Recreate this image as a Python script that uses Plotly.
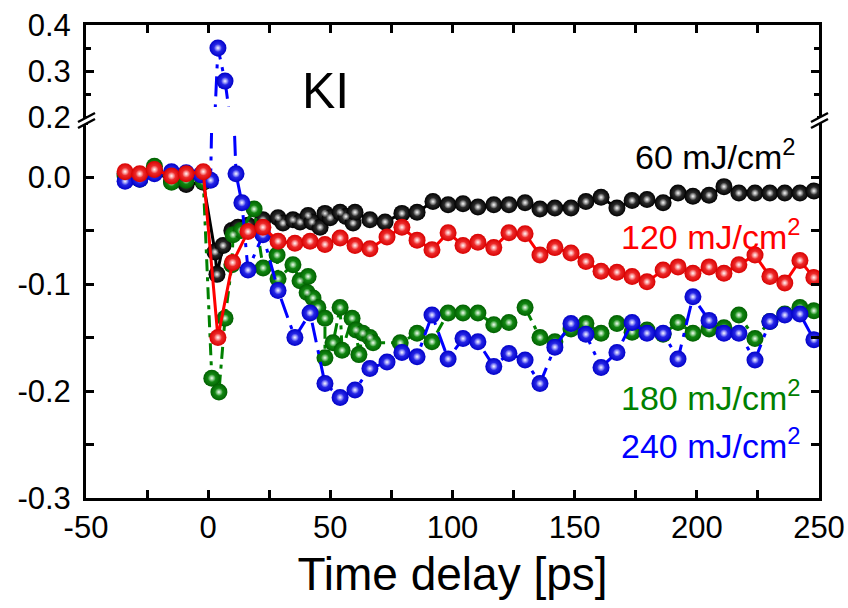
import plotly.graph_objects as go

# ---------------- data ----------------
t_pre = [-34, -28, -22, -15, -9, -2]

t_60 = t_pre + [2.8, 3.6, 6.1, 9.7, 12.2, 16.3, 22.4, 28.6, 30.6, 34.7, 37.6, 40.9, 42.5,
                45.8, 47.8, 49.9, 54.0, 56.4, 59.3, 60.1, 66.2, 72.4, 79.3, 85.5, 92.0,
                98.2, 104.3, 110.4, 116.9, 123.1, 129.7, 135.8, 141.9, 148.5, 154.6,
                160.8, 167.3, 173.5, 179.6, 186.2, 192.3, 198.4, 205.0, 211.1, 217.2,
                223.8, 229.9, 236.0, 242.2, 247.9]
v_60 = [0.003, 0.001, 0.006, -0.004, -0.007, -0.005,
        -0.070, -0.091, -0.064, -0.050, -0.047, -0.045, -0.040, -0.038, -0.043, -0.040,
        -0.042, -0.036, -0.042, -0.047, -0.034, -0.038, -0.033, -0.037, -0.043, -0.033,
        -0.040, -0.042, -0.034, -0.033, -0.023, -0.026, -0.025, -0.028, -0.026, -0.026,
        -0.024, -0.030, -0.029, -0.029, -0.023, -0.019, -0.029, -0.022, -0.021, -0.024,
        -0.015, -0.018, -0.017, -0.009, -0.015, -0.015, -0.015, -0.015, -0.015, -0.013]

t_120 = t_pre + [4.0, 10.0, 16.3, 22.4, 28.6, 35.5, 41.7, 47.8, 54.0, 60.1, 66.2, 73.2,
                 79.3, 85.5, 91.6, 98.2, 104.3, 110.4, 116.9, 123.1, 129.7, 135.8, 141.9,
                 148.5, 154.6, 160.8, 167.3, 173.5, 179.6, 186.2, 192.3, 198.4, 205.0,
                 211.1, 217.2, 223.8, 229.9, 236.0, 242.2, 247.9]
v_120 = [0.005, 0.003, 0.007, 0.001, 0.003, 0.005,
         -0.150, -0.080, -0.051, -0.047, -0.060, -0.062, -0.060, -0.063, -0.057, -0.064,
         -0.067, -0.056, -0.047, -0.059, -0.068, -0.052, -0.064, -0.061, -0.066, -0.052,
         -0.053, -0.073, -0.066, -0.071, -0.079, -0.088, -0.089, -0.093, -0.098, -0.087,
         -0.084, -0.090, -0.084, -0.090, -0.082, -0.073, -0.093, -0.099, -0.078, -0.094]

t_180 = t_pre + [1.5, 4.4, 6.9, 9.7, 10.2, 13.5, 18.8, 22.5, 28.2, 28.6, 34.7, 37.6, 40.9,
                 40.5, 42.9, 44.9, 47.8, 47.8, 51.1, 54.0, 54.8, 58.9, 60.5, 61.7, 63.3,
                 66.2, 67.5, 78.6, 85.5, 91.6, 98.2, 104.3, 110.4, 116.9, 123.1, 129.7,
                 135.8, 141.9, 148.5, 154.6, 160.8, 167.3, 173.5, 179.6, 186.2, 192.3,
                 198.4, 205.0, 211.1, 217.2, 223.8, 229.9, 236.0, 242.2, 247.9]
v_180 = [0.001, -0.002, 0.010, -0.005, -0.003, -0.004,
         -0.188, -0.201, -0.132, -0.082, -0.054, -0.050, -0.030, -0.085, -0.073, -0.095,
         -0.082, -0.097, -0.093, -0.108, -0.113, -0.122, -0.132, -0.169, -0.155, -0.122,
         -0.162, -0.132, -0.143, -0.166, -0.146, -0.150, -0.155, -0.155, -0.146, -0.154,
         -0.127, -0.127, -0.127, -0.138, -0.136, -0.122, -0.150, -0.154, -0.142, -0.137,
         -0.146, -0.137, -0.145, -0.143, -0.147, -0.136, -0.146, -0.142, -0.141, -0.129,
         -0.151, -0.135, -0.128, -0.122, -0.125]

t_240 = [-34, -28, -22, -15, -9, -3, 1.0,
         4.0, 6.9, 11.4, 13.8, 16.3, 22.4, 28.6, 35.5, 41.7, 47.8, 54.0, 60.1, 66.2, 73.2,
         79.3, 85.5, 91.6, 98.2, 104.3, 110.4, 116.9, 123.1, 129.7, 135.8, 141.9, 148.5,
         154.6, 160.8, 167.3, 173.5, 179.6, 186.2, 192.3, 198.4, 205.0, 211.1, 217.2,
         223.8, 229.9, 236.0, 242.2, 247.9]
v_240 = [-0.004, -0.002, 0.003, 0.005, 0.004, 0.002, -0.003,
         0.350, 0.278, 0.003, -0.024, -0.087, -0.054, -0.106, -0.150, -0.127, -0.193,
         -0.206, -0.199, -0.179, -0.173, -0.164, -0.168, -0.129, -0.170, -0.151, -0.154,
         -0.177, -0.165, -0.171, -0.193, -0.159, -0.137, -0.147, -0.178, -0.164, -0.136,
         -0.146, -0.146, -0.170, -0.112, -0.134, -0.146, -0.146, -0.171, -0.135, -0.129,
         -0.128, -0.152]

x_ticks = [-50, 0, 50, 100, 150, 200, 250]
x_ticktext = ["-50", "0", "50", "100", "150", "200", "250"]
x_minor = [-25, 25, 75, 125, 175, 225]
y_low_ticks = [-0.3, -0.2, -0.1, 0.0]
y_low_ticktext = ["-0.3", "-0.2", "-0.1", "0.0"]
y_low_minor = [-0.25, -0.15, -0.05, 0.05]
y_high_ticks = [0.2, 0.3, 0.4]
y_high_ticktext = ["0.2", "0.3", "0.4"]
y_high_minor = [0.25, 0.35]

labels = ["60 mJ/cm<sup>2</sup>", "120 mJ/cm<sup>2</sup>",
          "180 mJ/cm<sup>2</sup>", "240 mJ/cm<sup>2</sup>"]

# ---------------- layout geometry ----------------
W, H = 848, 608
PL, PR, PT, PB = 86, 819, 25, 498          # plot-area edges in pixels
BREAK_PX = 119                              # where the axis is broken


def xp(px):
    return (px - PL) / (PR - PL)


def yp(py):
    return (PB - py) / (PB - PT)


split = yp(BREAK_PX)
FONT = "Liberation Sans, Arial, Helvetica, sans-serif"

fig = go.Figure()

series = [
    (t_60, v_60, "#000000", "#000000", "#505050", "solid"),
    (t_180, v_180, "#008000", "#006000", "#22a822", "12px,6px,4px,6px"),
    (t_240, v_240, "#0000ff", "#0000c8", "#4848ff", "20px,8px,4px,8px"),
    (t_120, v_120, "#ff0000", "#d80000", "#ff5050", "solid"),
]


def add_balls(t, v, color, edge, center, dash, xa, ya):
    fig.add_trace(go.Scatter(
        x=t, y=v, mode="lines+markers", xaxis=xa, yaxis=ya,
        line=dict(color=color, width=3, dash=dash),
        marker=dict(size=17, color=edge,
                    gradient=dict(type="radial", color=center),
                    line=dict(width=0)),
        hoverinfo="x+y", showlegend=False))
    # specular highlight on each sphere
    fig.add_trace(go.Scatter(
        x=t, y=v, mode="markers", xaxis=xa, yaxis=ya,
        marker=dict(size=8, color="rgba(255,255,255,0)",
                    gradient=dict(type="radial", color="rgba(255,255,255,0.95)"),
                    line=dict(width=0)),
        hoverinfo="skip", showlegend=False))


for t, v, color, edge, center, dash in series:
    add_balls(t, v, color, edge, center, dash, "x", "y")

# the 240 mJ/cm2 peak reaches into the upper (broken) segment
t, v, color, edge, center, dash = series[2]
add_balls(t, v, color, edge, center, dash, "x2", "y2")

axis_common = dict(showline=True, linecolor="black", linewidth=3,
                   ticks="inside", tickcolor="black", tickwidth=2.5,
                   showgrid=False, zeroline=False, fixedrange=True,
                   tickfont=dict(family=FONT, size=31, color="black"))
minor_common = dict(tickmode="array", ticks="inside", tickwidth=2.5, tickcolor="black")

fig.update_layout(
    width=W, height=H,
    margin=dict(l=PL, r=W - PR, t=PT, b=H - PB, autoexpand=False),
    paper_bgcolor="white", plot_bgcolor="white",
    font=dict(family=FONT, color="black"),
    showlegend=False,
    xaxis=dict(**axis_common, domain=[0, 1], anchor="y", range=[-50, 250],
               tickmode="array", tickvals=x_ticks, ticktext=x_ticktext,
               ticklen=8, ticklabelstandoff=0,
               minor=dict(**minor_common, tickvals=x_minor, ticklen=8),
               title=dict(text="Time delay [ps]", standoff=14,
                          font=dict(family=FONT, size=46, color="black"))),
    xaxis2=dict(**axis_common, domain=[0, 1], anchor="y2", side="top",
                range=[-50, 250], matches="x",
                tickmode="array", tickvals=x_ticks, ticklen=8,
                minor=dict(**minor_common, tickvals=x_minor, ticklen=8),
                showticklabels=False),
    yaxis=dict(**axis_common, domain=[0, split], anchor="x",
               range=[-0.3, (177 - BREAK_PX) / 1070.0],
               tickmode="array", tickvals=y_low_ticks, ticktext=y_low_ticktext,
               ticklen=8, mirror="ticks", ticklabelstandoff=6,
               minor=dict(**minor_common, tickvals=y_low_minor, ticklen=8)),
    yaxis2=dict(**axis_common, domain=[split, 1], anchor="x2",
                range=[0.2 - (BREAK_PX - 117) / 460.0, 0.4],
                tickmode="array", tickvals=y_high_ticks, ticktext=y_high_ticktext,
                ticklen=8, mirror="ticks", ticklabelstandoff=6,
                minor=dict(**minor_common, tickvals=y_high_minor, ticklen=5)),
)

# gap in the data lines across the axis break
shapes = [dict(type="rect", xref="paper", yref="paper",
               x0=xp(PL + 2), x1=xp(PR - 2), y0=yp(133), y1=yp(107),
               fillcolor="white", line=dict(width=0), layer="above")]

# "//" break marks on the left and right axis lines
for ax_px in (PL, PR):
    x0, x1 = ax_px - 8, ax_px + 9
    poly = (f"M {xp(x0)},{yp(122)} L {xp(x1)},{yp(113)} "
            f"L {xp(x1)},{yp(119)} L {xp(x0)},{yp(128)} Z")
    shapes.append(dict(type="path", xref="paper", yref="paper", path=poly,
                       fillcolor="white", line=dict(width=0), layer="above"))
    for ya, yb in ((122, 113), (128, 119)):
        shapes.append(dict(type="line", xref="paper", yref="paper",
                           x0=xp(x0), y0=yp(ya), x1=xp(x1), y1=yp(yb),
                           line=dict(color="black", width=2.5), layer="above"))

fig.update_layout(shapes=shapes)

# series labels
label_pos = [(241.5, 0.021, "#000000"), (243.5, -0.054, "#ff0000"),
             (243.5, -0.204, "#008000"), (243.5, -0.249, "#0000ff")]
annotations = []
for text, (ax_x, ax_y, col) in zip(labels, label_pos):
    annotations.append(dict(x=ax_x, y=ax_y, xref="x", yref="y", text=text,
                            showarrow=False, xanchor="right", yanchor="middle",
                            font=dict(family=FONT, size=34, color=col)))
annotations.append(dict(x=47.9, y=0.257, xref="x2", yref="y2", text="KI",
                        showarrow=False, xanchor="center", yanchor="middle",
                        font=dict(family=FONT, size=50, color="black")))
fig.update_layout(annotations=annotations)

fig.write_html("out.html")
